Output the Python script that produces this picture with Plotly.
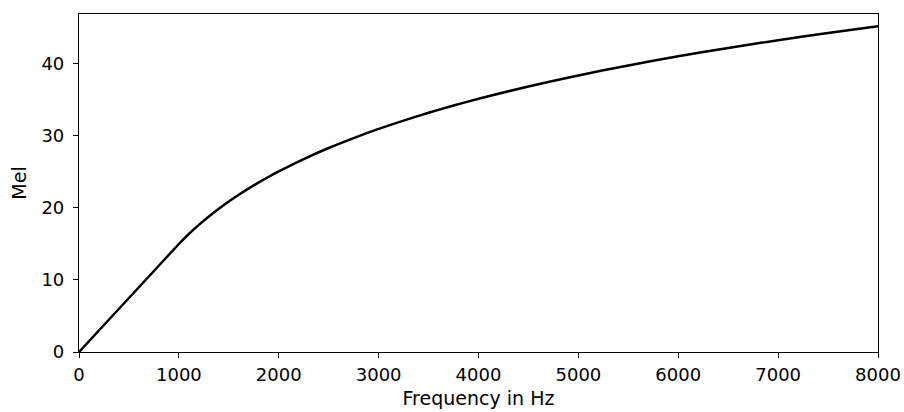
import plotly.graph_objects as go

freq_hz = [0, 250, 500, 750, 1000, 1050, 1100, 1200, 1300, 1400, 1500, 1600, 1700, 1800,
           1900, 2000, 2250, 2500, 2750, 3000, 3250, 3500, 3750, 4000, 4500, 5000, 5500,
           6000, 6500, 7000, 7500, 8000]
mel = [0, 3.75, 7.5, 11.25, 15.0, 15.71, 16.39, 17.65, 18.82, 19.89, 20.9, 21.84, 22.72,
       23.55, 24.34, 25.08, 26.8, 28.33, 29.71, 30.98, 32.14, 33.22, 34.23, 35.16, 36.88,
       38.41, 39.8, 41.06, 42.23, 43.3, 44.31, 45.25]

x_ticks = [0, 1000, 2000, 3000, 4000, 5000, 6000, 7000, 8000]
y_ticks = [0, 10, 20, 30, 40]

fig = go.Figure()
fig.add_trace(go.Scatter(x=freq_hz, y=mel, mode="lines",
                         line=dict(color="black", width=2.5, shape="spline", smoothing=0.8),
                         showlegend=False))

font = dict(family="DejaVu Sans", size=18, color="black")
title_font = dict(family="DejaVu Sans", size=19, color="black")
axis_common = dict(showline=True, linecolor="black", linewidth=1.2, mirror=True,
                   ticks="outside", ticklen=5, tickcolor="black", tickwidth=1.2,
                   showgrid=False, zeroline=False, tickfont=font, automargin=False)
fig.update_layout(
    width=904, height=412,
    margin=dict(l=79, r=26, t=14, b=60),
    paper_bgcolor="white", plot_bgcolor="white",
    font=font,
    xaxis=dict(range=[0, 8000], tickvals=x_ticks, ticklabelstandoff=1,
               title=dict(text="Frequency in Hz", standoff=7, font=title_font), **axis_common),
    yaxis=dict(range=[0, 46.94], tickvals=y_ticks, ticklabelstandoff=5,
               title=dict(text="Mel", standoff=9, font=title_font), **axis_common),
)
fig.write_html("out.html")
